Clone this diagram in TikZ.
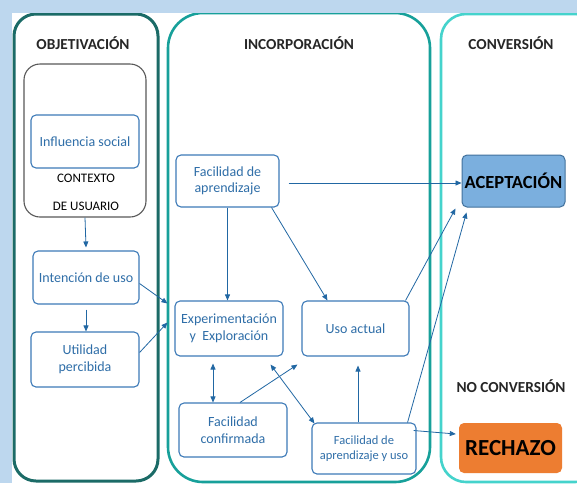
\documentclass[tikz,border=0pt]{standalone}
\usepackage{fontspec}
\setmainfont{Carlito}
\usetikzlibrary{arrows.meta,calc}
\definecolor{bgblue}{HTML}{BDD7EE}
\definecolor{objc}{HTML}{1B6B67}
\definecolor{incc}{HTML}{17A09A}
\definecolor{conc}{HTML}{45D3CC}
\definecolor{boxc}{HTML}{3D7AB8}
\definecolor{txtc}{HTML}{2F6EA8}
\definecolor{arrc}{HTML}{2167A3}
\definecolor{acepf}{HTML}{7BAFDE}
\definecolor{acepd}{HTML}{41719C}
\definecolor{rechf}{HTML}{ED7D31}
\definecolor{titc}{HTML}{262626}
\tikzset{
  bbox/.style={draw=boxc, line width=1.1pt, rounded corners=5pt, align=center, text=txtc, font=\fontsize{14}{16.5}\selectfont, inner sep=0pt},
  title/.style={text=titc, font=\bfseries\fontsize{15.3}{17}\selectfont, inner sep=0pt},
  arr/.style={draw=arrc, line width=0.8pt, -{Triangle[length=6pt,width=5pt]}},
  darr/.style={draw=arrc, line width=0.8pt, {Triangle[length=6pt,width=5pt]}-{Triangle[length=6pt,width=5pt]}},
  panel/.style={line width=2.6pt}
}
\begin{document}
\begin{tikzpicture}[x=1pt,y=-1pt]
\useasboundingbox (0,0) rectangle (577,483);
\fill[white] (0,0) rectangle (577,483);
\fill[bgblue] (0,0) rectangle (577,13);
\fill[bgblue] (0,0) rectangle (12,483);
\begin{scope}
\clip (12,13) rectangle (577,483);
\draw[panel, objc, line width=3pt, rounded corners=22pt] (14,14) rectangle (158,481);
\draw[panel, incc, rounded corners=35pt] (168,13) rectangle (430,482);
\draw[panel, conc, rounded corners=25pt] (441,14) rectangle (600,482);
\end{scope}

\node[title] (t1) at (83,43) {OBJETIVACIÓN};
\node[title] (t2) at (299,43) {INCORPORACIÓN};
\node[title] (t3) at (511,43) {CONVERSIÓN};
\node[title] (t4) at (511,386) {NO CONVERSIÓN};

\node[draw=black!65, line width=1.1pt, rounded corners=16pt, minimum width=122pt, minimum height=153pt, inner sep=0pt] (ctx) at (85,140.5) {};
\node[bbox, minimum width=108pt, minimum height=53pt] (inf) at (85,141.5) {Influencia social};
\node[inner sep=0pt, font=\fontsize{13}{15}\selectfont] (ctx1) at (86,178) {CONTEXTO};
\node[inner sep=0pt, font=\fontsize{13}{15}\selectfont] (ctx2) at (86,206) {DE USUARIO};

\node[bbox, minimum width=106pt, minimum height=53pt] (int) at (86,277.5) {Intención de uso};
\node[bbox, minimum width=108pt, minimum height=55pt] (util) at (85,359.5) {Utilidad\\percibida};

\node[bbox, minimum width=103pt, minimum height=52pt] (fa) at (227.5,181) {Facilidad de\\aprendizaje};
\node[bbox, minimum width=108pt, minimum height=55pt] (exp) at (229,328.5) {Experimentación\\y\ \ Exploración};
\node[bbox, minimum width=107pt, minimum height=55pt] (uso) at (355.5,328.5) {Uso actual};
\node[bbox, minimum width=108pt, minimum height=54pt] (conf) at (233,430) {Facilidad\\confirmada};
\node[bbox, minimum width=104pt, minimum height=51pt, font=\fontsize{12.5}{15}\selectfont] (fau) at (364,448.5) {Facilidad de\\aprendizaje y uso};

\node[draw=acepd, fill=acepf, line width=1pt, rounded corners=5pt, minimum width=103pt, minimum height=52pt, inner sep=0pt, font=\bfseries\fontsize{18.5}{20}\selectfont, text=black] (acep) at (513.5,181) {ACEPTACIÓN};
\node[fill=rechf, rounded corners=5pt, minimum width=103pt, minimum height=50pt, inner sep=0pt, font=\bfseries\fontsize{23}{25}\selectfont, text=black] (rech) at (510.5,448) {RECHAZO};

% connectors
\draw[arr] (ctx.south) -- ([yshift=3pt]int.north);
\draw[arr, shorten <=5pt] (int.south) -- (int.south |- util.north);
\draw[arr] ([yshift=-6pt]int.east) -- ($(exp.north west)+(-7,3)$);
\draw[arr] ([yshift=7pt]util.east) -- ($(exp.west)+(-7,-6)$);
\draw[arr, shorten <=9pt] ([yshift=-2pt]fa.east) -- ([yshift=-2pt]acep.west);
\draw[arr] (fa.south) -- (fa.south |- exp.north);
\draw[arr] ([xshift=-8pt]fa.south east) -- ($(uso.north west)+(26,0)$);
\draw[arr] ([xshift=-4pt]uso.north east) -- ($(acep.south west)+(-6,1)$);
\draw[arr] ([xshift=-9pt]fau.north east) -- ($(acep.south west)+(5,5)$);
\draw[arr] ([yshift=18pt,xshift=-3pt]fau.east) -- ($(rech.west)+(-3,-14)$);
\draw[arr] ([xshift=-6pt]fau.north) -- ($(uso.south)+(2.5,9)$);
\draw[darr] ($(exp.south)+(-16,7)$) -- ([xshift=-20pt]conf.north);
\draw[arr] ([xshift=7pt]conf.north) -- ($(uso.south west)+(-4,8)$);
\draw[darr] ($(exp.south east)+(-13,8)$) -- ($(fau.north west)+(3,1)$);
\end{tikzpicture}
\end{document}
